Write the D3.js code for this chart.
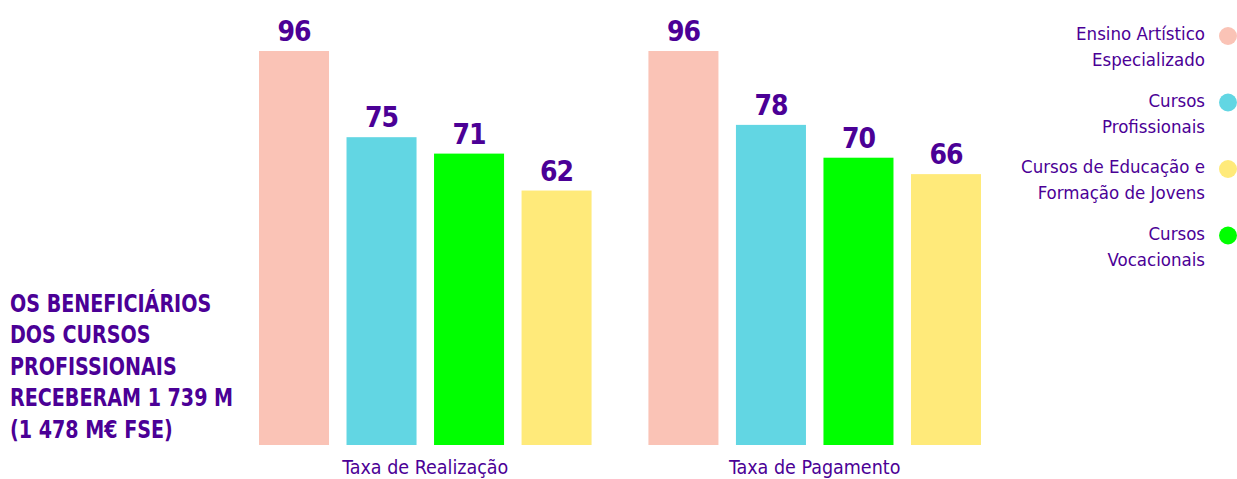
<!DOCTYPE html>
<html>
<head>
<meta charset="utf-8">
<script src="https://cdn.jsdelivr.net/npm/d3@7"></script>
<style>
  body { margin: 0; background: #fff; }
  svg text { font-family: "DejaVu Sans Condensed", "DejaVu Sans", sans-serif; fill: #4b0096; }
</style>
</head>
<body>
<div id="chart"></div>
<script>
var groups = ["Taxa de Realização", "Taxa de Pagamento"];
var series = ["Ensino Artístico Especializado", "Cursos Profissionais", "Cursos Vocacionais", "Cursos de Educação e Formação de Jovens"];
var realizacao = [96, 75, 71, 62];
var pagamento = [96, 78, 70, 66];
var legendOrder = ["Ensino Artístico Especializado", "Cursos Profissionais", "Cursos de Educação e Formação de Jovens", "Cursos Vocacionais"];
var legendLines = [["Ensino Artístico", "Especializado"], ["Cursos", "Profissionais"], ["Cursos de Educação e", "Formação de Jovens"], ["Cursos", "Vocacionais"]];
var noteLines = ["OS BENEFICIÁRIOS", "DOS CURSOS", "PROFISSIONAIS", "RECEBERAM 1 739 M", "(1 478 M€ FSE)"];

var width = 1237, height = 479;

var color = d3.scaleOrdinal()
    .domain(["Ensino Artístico Especializado", "Cursos Profissionais", "Cursos de Educação e Formação de Jovens", "Cursos Vocacionais"])
    .range(["#fac3b6", "#62d6e3", "#ffea7a", "#00ff00"]);

var data = groups.map(function(g, i) {
    var vals = i == 0 ? realizacao : pagamento;
    return {group: g, values: series.map(function(s, j) { return {name: s, value: vals[j]}; })};
});

var svg = d3.select("#chart").append("svg")
    .attr("width", width)
    .attr("height", height);

var x0 = d3.scaleBand()
    .domain(groups)
    .range([259, 981])
    .paddingInner(0.146);

var x1 = d3.scaleBand()
    .domain(series)
    .range([0, x0.bandwidth()])
    .paddingInner(0.2);

var y = d3.scaleLinear()
    .domain([0, d3.max(realizacao.concat(pagamento))])
    .range([445, 51]);

var g = svg.selectAll(".group")
    .data(data)
    .enter().append("g")
    .attr("class", "group")
    .attr("transform", function(d) { return "translate(" + x0(d.group) + ",0)"; });

g.selectAll("rect")
    .data(function(d) { return d.values; })
    .enter().append("rect")
    .attr("x", function(d) { return x1(d.name); })
    .attr("y", function(d) { return y(d.value); })
    .attr("width", x1.bandwidth())
    .attr("height", function(d) { return y(0) - y(d.value); })
    .attr("fill", function(d) { return color(d.name); });

g.selectAll(".val")
    .data(function(d) { return d.values; })
    .enter().append("text")
    .attr("class", "val")
    .attr("x", function(d) { return x1(d.name) + x1.bandwidth() / 2; })
    .attr("y", function(d) { return y(d.value) - 10; })
    .attr("text-anchor", "middle")
    .style("font-size", "28px")
    .style("font-weight", "bold")
    .style("letter-spacing", "-1px")
    .text(function(d) { return d.value; });

// group labels under the bars
svg.selectAll(".glabel")
    .data(groups)
    .enter().append("text")
    .attr("class", "glabel")
    .attr("x", function(d) { return x0(d) + x0.bandwidth() / 2; })
    .attr("y", 474)
    .attr("text-anchor", "middle")
    .style("font-size", "19.5px")
    .text(function(d) { return d; });

// legend
var legend = svg.selectAll(".legend")
    .data(legendOrder)
    .enter().append("g")
    .attr("class", "legend")
    .attr("transform", function(d, i) { return "translate(0," + (36 + i * 66.5) + ")"; });

legend.append("circle")
    .attr("cx", 1228)
    .attr("cy", 0)
    .attr("r", 9)
    .attr("fill", function(d) { return color(d); });

legend.append("text")
    .attr("x", 1205)
    .attr("y", 4)
    .attr("text-anchor", "end")
    .style("font-size", "18.5px")
    .html(function(d, i) {
        return '<tspan x="1205">' + legendLines[i][0] + '</tspan><tspan x="1205" dy="26">' + legendLines[i][1] + '</tspan>';
    });

// note on the left, squeezed to the narrow look of the original
svg.append("g")
    .attr("transform", "translate(10,0) scale(0.85,1)")
    .selectAll("text")
    .data(noteLines)
    .enter().append("text")
    .attr("x", 0)
    .attr("y", function(d, i) { return 312 + i * 31.5; })
    .style("font-size", "25px")
    .style("font-weight", "bold")
    .text(function(d) { return d; });
</script>
</body>
</html>
